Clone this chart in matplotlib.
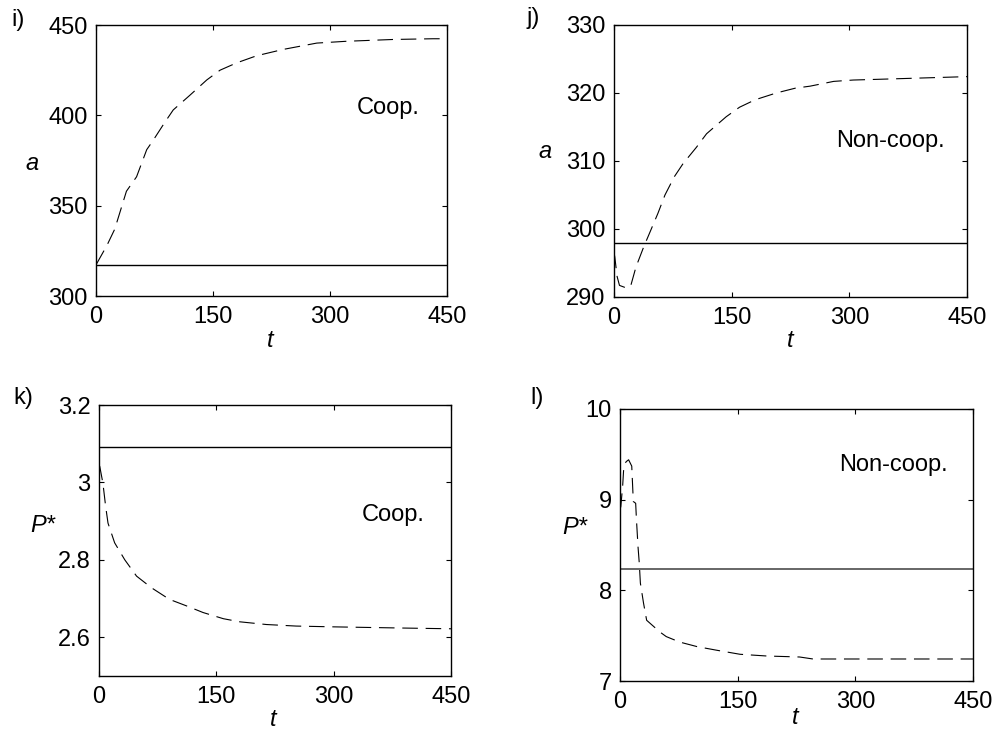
import matplotlib.pyplot as plt

plt.rcParams['font.family'] = ['Liberation Sans', 'DejaVu Sans']
plt.rcParams['font.size'] = 17

# i) cooperative: state a over time
t_i = [0, 1, 14, 24, 39, 52, 65, 73, 88, 99, 120, 142, 159, 180, 206, 240, 283, 321, 381, 432, 450]
a_i = [318, 318, 328, 337, 358, 366, 381, 386, 396, 403, 411, 419.6, 425, 429, 433, 436.5, 440, 441, 442, 442.4, 442.4]
a_i_ss = 317.2

# j) non-cooperative: state a over time
t_j = [0, 1, 4, 7, 14, 21, 28, 38, 45, 56, 65, 77, 88, 105, 118, 143, 160, 180, 207, 231, 250, 280, 305, 335, 450]
a_j = [296.5, 295.9, 293, 291.7, 291.4, 291.5, 294.4, 297.4, 299.3, 302.3, 305, 307.7, 309.6, 312, 314, 316.5,
       317.9, 319, 320, 320.7, 321, 321.7, 321.9, 322, 322.4]
a_j_ss = 298

# k) cooperative: price P* over time
t_k = [0, 1, 5, 8.5, 11.5, 20, 33, 48, 67, 90, 112, 133, 159, 180, 214, 252, 299, 385, 450]
p_k = [3.045, 3.041, 2.998, 2.938, 2.895, 2.844, 2.80, 2.758, 2.728, 2.698, 2.681, 2.664, 2.648, 2.640, 2.633,
       2.629, 2.627, 2.624, 2.622]
p_k_ss = 3.091

# l) non-cooperative: price P* over time
t_l = [0, 1, 3.4, 5, 8, 11, 15, 17, 20, 21, 23, 24.6, 26, 30, 34, 51, 59, 76, 98, 123, 153, 187, 229, 246, 314, 450]
p_l = [8.9, 8.92, 9.15, 9.38, 9.42, 9.44, 9.37, 8.98, 8.96, 8.78, 8.48, 8.30, 8.08, 7.86, 7.67, 7.54, 7.49, 7.43,
       7.38, 7.34, 7.295, 7.276, 7.265, 7.243, 7.243, 7.243]
p_l_ss = 8.24

xticks = [0, 150, 300, 450]

panels = [
    # rect, t, y, steady, steady colour, ylim, yticks, yticklabels, ylabel, tag, note, note_xy, label_xy, tag_xy, t_xy
    ([0.0961, 0.5989, 0.3514, 0.3672], t_i, a_i, a_i_ss, 'black', (300, 450), [300, 350, 400, 450],
     ['300', '350', '400', '450'], 'a', 'i)', 'Coop.', (374, 404), (32, 163), (18, 20), (270, 340)),
    ([0.6146, 0.5976, 0.3534, 0.3686], t_j, a_j, a_j_ss, 'black', (290, 330), [290, 300, 310, 320, 330],
     ['290', '300', '310', '320', '330'], 'a', 'j)', 'Non-coop.', (352, 313), (545, 152), (533, 18), (790, 340)),
    ([0.0991, 0.0840, 0.3524, 0.3672], t_k, p_k, p_k_ss, 'black', (2.5, 3.2), [2.6, 2.8, 3.0, 3.2],
     ['2.6', '2.8', '3', '3.2'], 'P*', 'k)', 'Coop.', (376, 2.916), (43, 525), (23, 398), (273, 720)),
    ([0.6206, 0.0772, 0.3534, 0.3686], t_l, p_l, p_l_ss, '0.4', (7, 10), [7, 8, 9, 10],
     ['7', '8', '9', '10'], 'P*', 'l)', 'Non-coop.', (348, 9.38), (575, 527), (537, 398), (795, 717)),
]

W, H = 999, 738
fig = plt.figure(figsize=(W / 100, H / 100), dpi=100)

for rect, t, y, ss, ss_col, ylim, yt, ytl, ylab, tag, note, note_xy, lab_xy, tag_xy, t_xy in panels:
    ax = fig.add_axes(rect)
    ax.plot(t, y, color='black', lw=0.8, dashes=(14, 7))
    ax.axhline(ss, color=ss_col, lw=1.0 if ss_col == 'black' else 1.4)
    ax.set_xlim(0, 450)
    ax.set_ylim(*ylim)
    ax.set_xticks(xticks)
    ax.set_xticklabels([str(v) for v in xticks])
    ax.set_yticks(yt)
    ax.set_yticklabels(ytl)
    ax.tick_params(direction='in', top=True, right=True, length=3.5, width=0.8, pad=6)
    ax.tick_params(axis='x', pad=7.5)
    for s in ax.spines.values():
        s.set_linewidth(1.0)
    ax.text(note_xy[0], note_xy[1], note, ha='center', va='center')
    # axis names and panel tags in pixel positions
    fig.text(lab_xy[0] / W, 1 - lab_xy[1] / H, ylab, style='italic', ha='center', va='center')
    fig.text(t_xy[0] / W, 1 - t_xy[1] / H, 't', style='italic', ha='center', va='center')
    fig.text(tag_xy[0] / W, 1 - tag_xy[1] / H, tag, ha='center', va='center')

fig.savefig('out.png', dpi=100)
